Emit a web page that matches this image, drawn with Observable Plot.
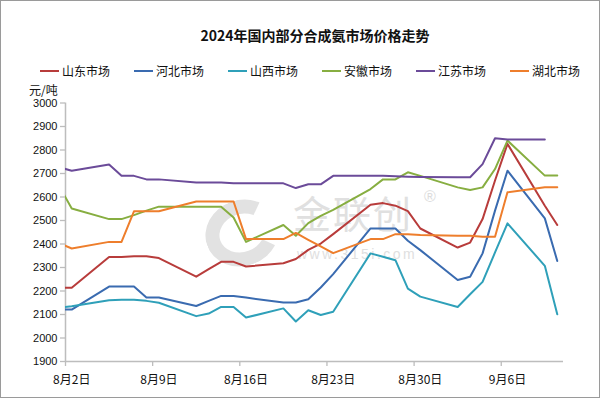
<!DOCTYPE html>
<html><head><meta charset="utf-8">
<script src="https://cdn.jsdelivr.net/npm/d3@7"></script>
<script src="https://cdn.jsdelivr.net/npm/@observablehq/plot@0.6"></script>
<style>
body{margin:0;background:#fff;}
#frame{position:relative;width:600px;height:398px;background:#fff;overflow:hidden;font-family:"Liberation Sans","Noto Sans CJK SC",sans-serif;}
#border{position:absolute;left:0;top:0;width:600px;height:398px;box-sizing:border-box;border:1px solid #9a9a9a;pointer-events:none;z-index:10;}
#title{position:absolute;left:0;top:25px;width:630px;text-align:center;font-family:"Noto Sans CJK SC",sans-serif;font-weight:bold;font-size:14px;color:#111;}
#legend{position:absolute;left:40px;top:62px;display:flex;font-family:"Noto Sans CJK SC",sans-serif;font-size:12px;color:#111;}
.item{width:94px;display:flex;align-items:center;}
.sw{width:19px;height:2px;margin-right:3px;}
#unit{position:absolute;left:29px;top:84px;line-height:12px;font-family:"Noto Sans CJK SC",sans-serif;font-size:12px;color:#111;}
#wm1{position:absolute;left:293px;top:192px;line-height:40px;font-family:"Noto Sans CJK SC",sans-serif;font-size:38px;color:#e0e0e0;letter-spacing:2px;}
#wm2{position:absolute;left:297px;top:246px;font-family:"Liberation Sans",sans-serif;font-size:14px;color:#e0e0e0;letter-spacing:2.5px;}
#wm3{position:absolute;left:424px;top:188px;font-size:16px;color:#dcdcdc;}
#logo{position:absolute;left:205px;top:200px;width:46px;height:38px;border-radius:50%;border:14px solid #e2e2e2;border-right-color:transparent;transform:rotate(-20deg);}
#plot{position:absolute;left:0;top:95px;}
</style></head>
<body>
<div id="frame">
  <div id="title">2024年国内部分合成氨市场价格走势</div>
  <div id="legend"></div>
  <div id="unit">元/吨</div>
  <div id="logo"></div>
  <div id="wm1">金联创</div>
  <div id="wm2">www.315i.com</div>
  <div id="wm3">®</div>
  <div id="plot"></div>
  <div id="border"></div>
</div>
<script>
const dates = ["8/1","8/2","8/5","8/6","8/7","8/8","8/9","8/12","8/13","8/14","8/15","8/16","8/19","8/20","8/21","8/22","8/23","8/26","8/27","8/28","8/29","8/30","9/2","9/3","9/4","9/5","9/6","9/9","9/10"];
const seriesNames = ["山东市场","河北市场","山西市场","安徽市场","江苏市场","湖北市场"];
const colors = ["#B83C3B","#3A6BB0","#2FA0B9","#87AE41","#6B4B99","#EE7E2C"];
const shandong = [2214,2214,2345,2345,2348,2348,2340,2261,2293,2324,2324,2304,2318,2336,2375,2402,2442,2567,2574,2563,2540,2466,2385,2406,2506,2670,2826,2563,2481];
const hebei    = [2121,2121,2219,2219,2219,2172,2172,2136,2158,2179,2179,2172,2151,2151,2165,2215,2272,2466,2466,2466,2414,2374,2247,2261,2360,2542,2712,2509,2328];
const shanxi   = [2129,2135,2161,2163,2163,2158,2150,2093,2104,2132,2132,2087,2126,2070,2118,2098,2112,2360,2346,2331,2210,2176,2132,2186,2239,2364,2488,2307,2101];
const anhui    = [2645,2551,2506,2506,2523,2542,2559,2559,2559,2559,2513,2409,2481,2435,2489,2520,2545,2634,2675,2675,2705,2690,2641,2630,2641,2719,2840,2691,2691];
const jiangsu  = [2726,2712,2738,2690,2690,2675,2675,2662,2662,2662,2658,2658,2658,2638,2654,2654,2690,2690,2690,2688,2686,2685,2684,2684,2740,2850,2845,2845,null];
const hubei    = [2403,2381,2409,2409,2539,2539,2539,2581,2581,2581,2581,2421,2421,2447,2418,2390,2361,2421,2421,2442,2442,2438,2435,2435,2431,2431,2620,2641,2641];
const tickDates = ["8/2","8/9","8/16","8/23","8/30","9/6"];
const tickLabels = ["8月2日","8月9日","8月16日","8月23日","8月30日","9月6日"];
const yTicks = [1900,2000,2100,2200,2300,2400,2500,2600,2700,2800,2900,3000];
const startDate = "8/2";
const endDate = "9/11";

const toDate = s => { const [m,d] = s.split("/").map(Number); return new Date(2024, m-1, d); };
const dayOf = s => Math.round((toDate(s) - toDate(startDate)) / 86400000);

const allSeries = [shandong, hebei, shanxi, anhui, jiangsu, hubei];
const rows = allSeries.flatMap((vals, k) => vals.map((v, i) => ({series: seriesNames[k], day: dayOf(dates[i]) + 0.5, value: v})).filter(d => d.value != null));
const tickData = tickDates.map((t, i) => ({day: dayOf(t), label: tickLabels[i]}));

// legend
const lg = document.getElementById("legend");
seriesNames.forEach((n, i) => {
  const it = document.createElement("div"); it.className = "item";
  it.innerHTML = `<span class="sw" style="background:${colors[i]}"></span><span>${n}</span>`;
  lg.appendChild(it);
});

const axisColor = "#bdbdbd";
const chart = Plot.plot({
  width: 600, height: 296,
  marginLeft: 65, marginRight: 37, marginTop: 7.5, marginBottom: 30,
  style: {fontFamily: "'Liberation Sans','Noto Sans CJK SC',sans-serif", fontSize: "11px", background: "transparent", color: "#111"},
  x: {type: "linear", domain: [0, dayOf(endDate)], axis: null},
  y: {domain: [1900, 3000], axis: null},
  color: {domain: seriesNames, range: colors},
  marks: [
    Plot.axisY(yTicks, {label: null, tickSize: 5, tickPadding: 3, stroke: axisColor, strokeWidth: 1.3, fill: "#111", fontSize: 11, tickFormat: d => String(d)}),
    Plot.axisX(tickData.map(d => d.day), {label: null, tickSize: 5, stroke: axisColor, strokeWidth: 1.3, tickFormat: () => ""}),
    Plot.text(tickData, {x: d => d.day + 0.5, frameAnchor: "bottom", dy: 19, lineAnchor: "middle", text: "label", fontSize: 12, fill: "#111", fontFamily: "'Noto Sans CJK SC',sans-serif"}),
    Plot.ruleX([0], {stroke: axisColor, strokeWidth: 1.5}),
    Plot.ruleY([1900], {stroke: axisColor, strokeWidth: 1.5}),
    Plot.line(rows, {x: "day", y: "value", z: "series", stroke: "series", strokeWidth: 2, clip: true, curve: "linear"})
  ]
});
document.getElementById("plot").appendChild(chart);
</script>
</body></html>
